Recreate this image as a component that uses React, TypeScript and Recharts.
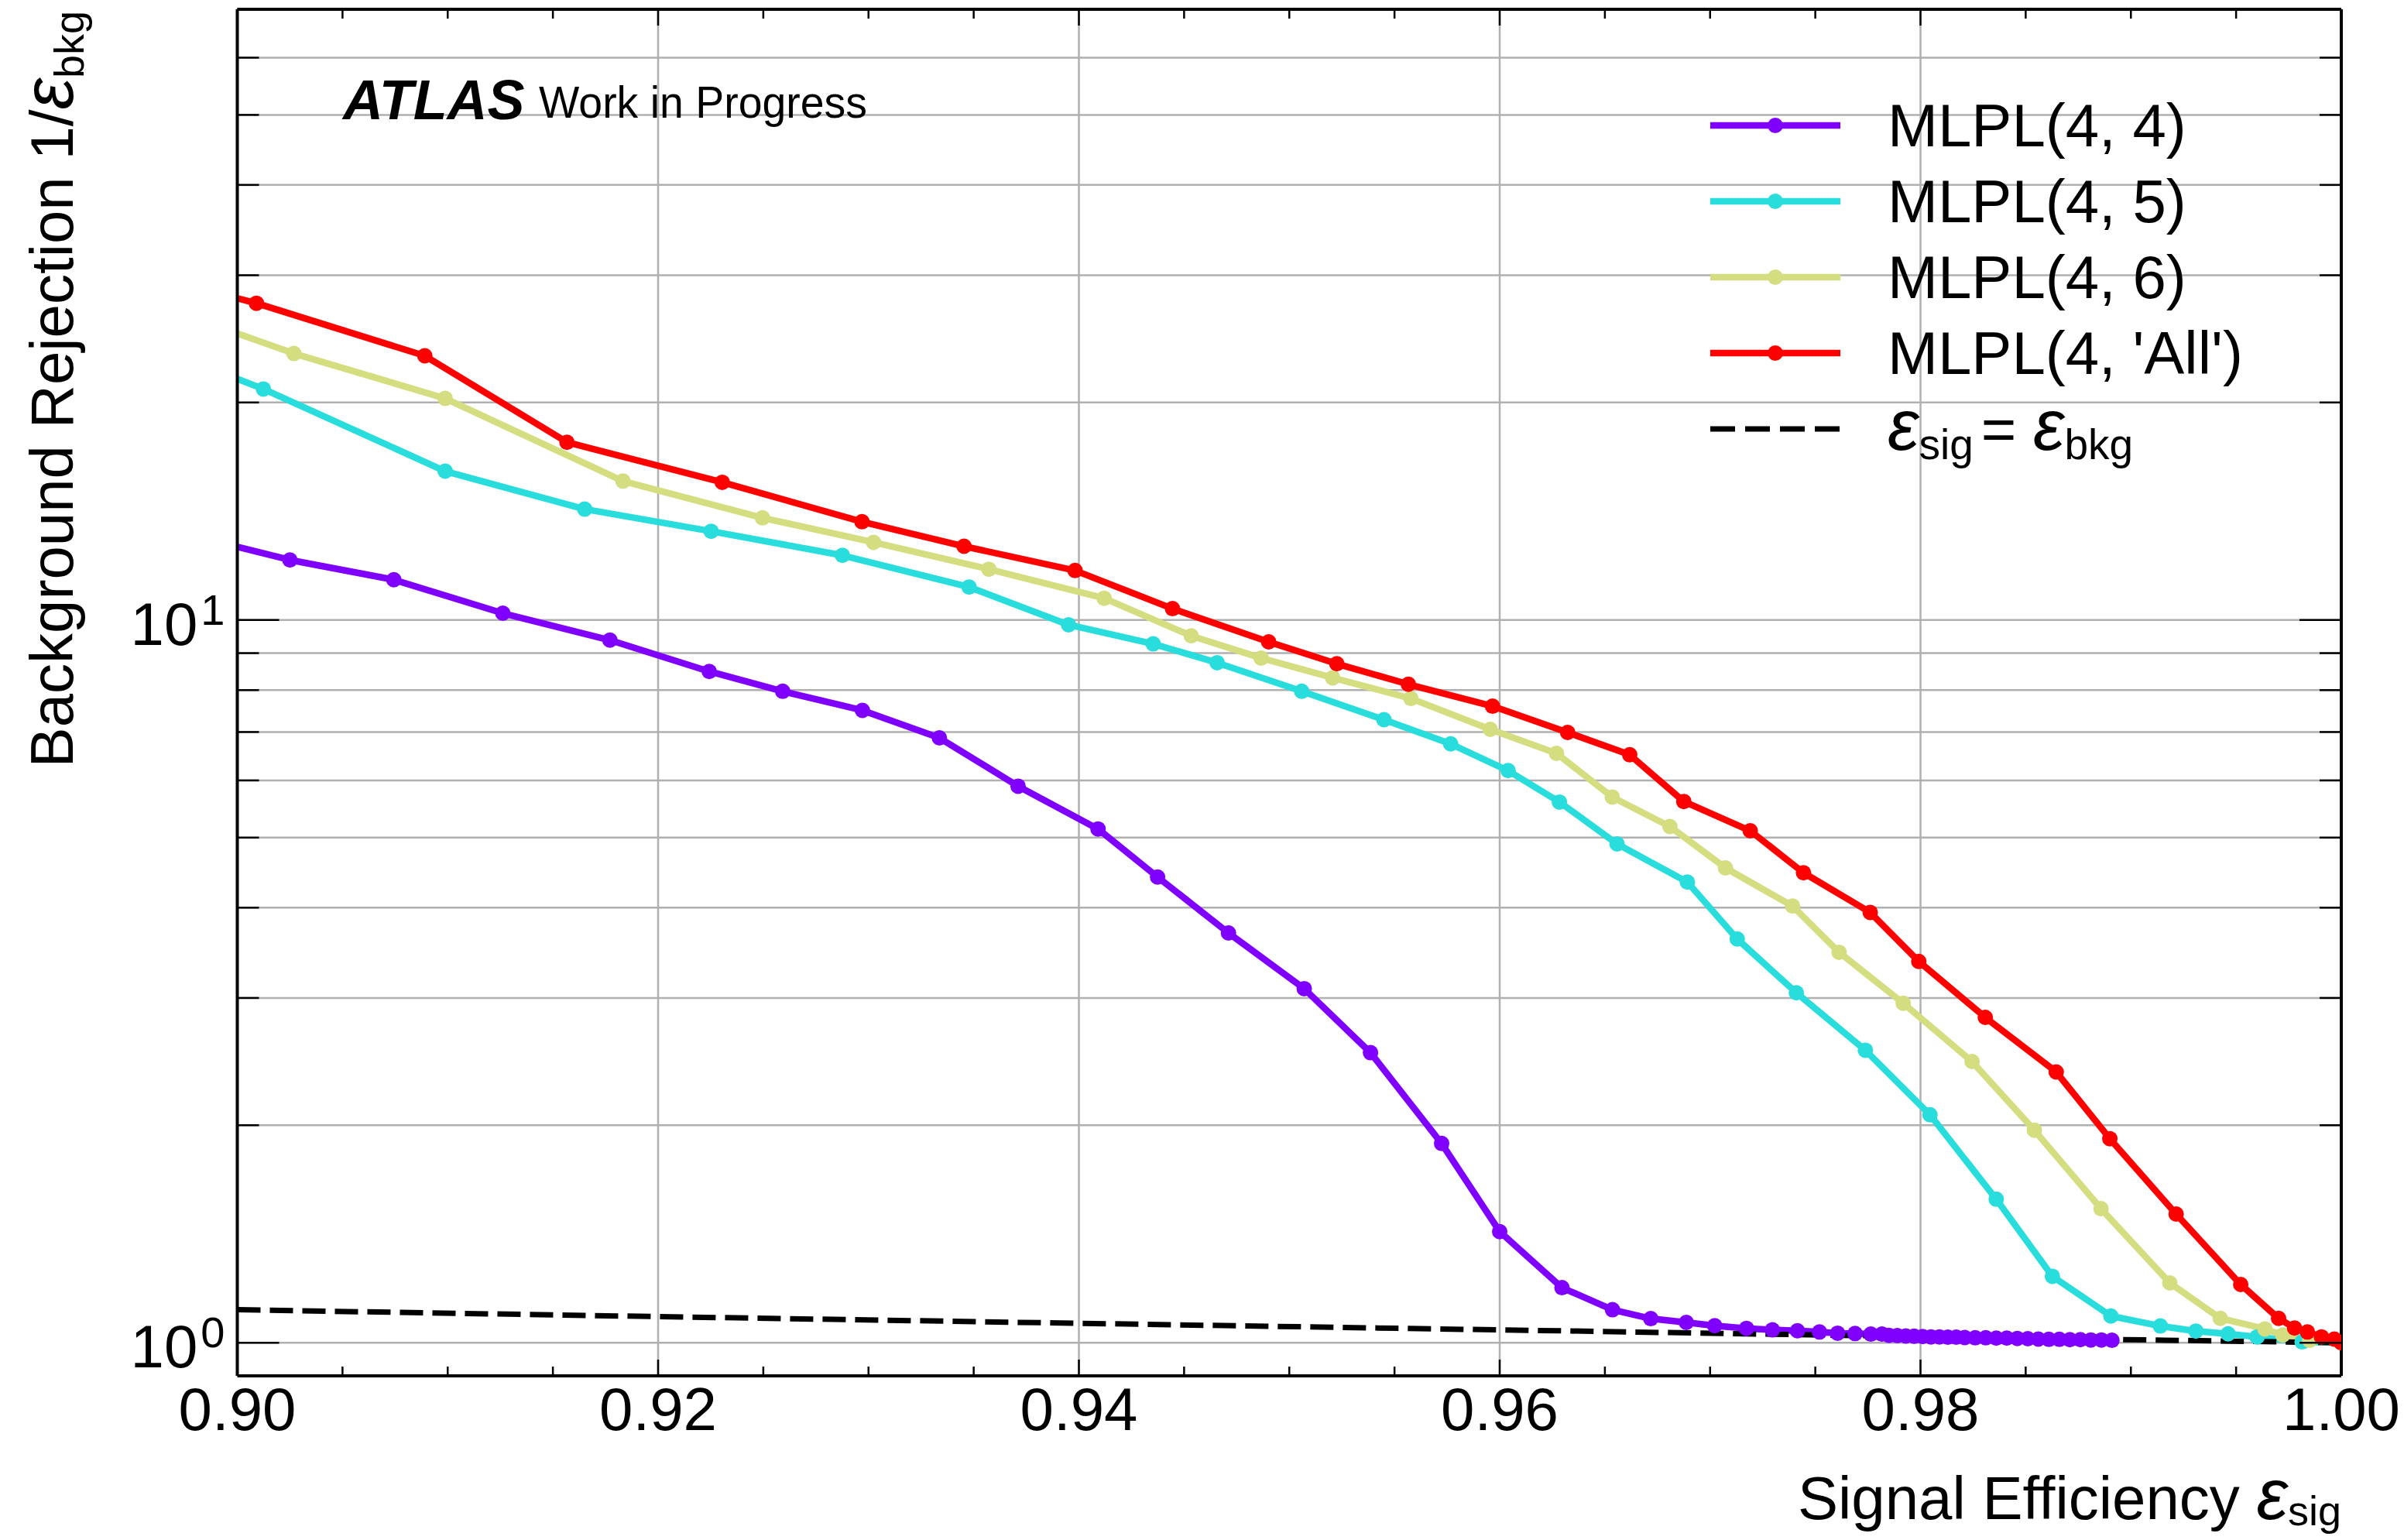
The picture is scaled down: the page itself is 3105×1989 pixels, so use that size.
import React from 'react';
import { LineChart, Line, XAxis, YAxis, CartesianGrid, Legend } from 'recharts';

const CHART_W = 3105;
const CHART_H = 1989;
const FONT = '"Liberation Sans", Arial, Helvetica, sans-serif';

// ---- axes / ticks ----
const xDomain: [number, number] = [0.9, 1.0];
const yDomain: [number, number] = [0.9, 70];
const xMajorTicks = [0.9, 0.92, 0.94, 0.96, 0.98, 1.0];
const xAllTicks = [0.9, 0.905, 0.91, 0.915, 0.92, 0.925, 0.93, 0.935, 0.94, 0.945, 0.95, 0.955, 0.96, 0.965, 0.97, 0.975, 0.98, 0.985, 0.99, 0.995, 1.0];
const yMajorTicks = [1, 10];
const yMajorLabels = ['0', '1'];
const yAllTicks = [1, 2, 3, 4, 5, 6, 7, 8, 9, 10, 20, 30, 40, 50, 60, 70];

// ---- series ----
const seriesNames = ["MLPL(4, 4)", "MLPL(4, 5)", "MLPL(4, 6)", "MLPL(4, 'All')"];
const seriesColors = ['#8000ff', '#2adddd', '#d4dd80', '#ff0000'];

const effMLPL44 = [0.898, 0.9025, 0.90744, 0.91262, 0.91771, 0.92243, 0.92592, 0.92971, 0.93337, 0.93711, 0.94091, 0.94374, 0.94711, 0.95071, 0.95386, 0.95724, 0.96, 0.96296, 0.96536, 0.96718, 0.96887, 0.97022, 0.97173, 0.97296, 0.97415, 0.9752, 0.97606, 0.97689, 0.97764, 0.97817, 0.9785, 0.9789, 0.9793, 0.9797, 0.9801, 0.9805, 0.9809, 0.9813, 0.9817, 0.9821, 0.9826, 0.9831, 0.9836, 0.9841, 0.9846, 0.9851, 0.9856, 0.9861, 0.9866, 0.9871, 0.9876, 0.9881, 0.9886, 0.9891];
const rejMLPL44 = [13.06, 12.11, 11.37, 10.22, 9.38, 8.49, 7.97, 7.5, 6.87, 5.89, 5.14, 4.41, 3.69, 3.09, 2.52, 1.887, 1.425, 1.192, 1.111, 1.08, 1.067, 1.056, 1.047, 1.042, 1.039, 1.035, 1.031, 1.03, 1.028, 1.028, 1.024, 1.023, 1.022, 1.021, 1.02, 1.019, 1.019, 1.018, 1.018, 1.017, 1.016, 1.016, 1.015, 1.015, 1.014, 1.013, 1.012, 1.011, 1.011, 1.01, 1.01, 1.009, 1.009, 1.008];

const effMLPL45 = [0.898, 0.90124, 0.90988, 0.91651, 0.92252, 0.92876, 0.93478, 0.93951, 0.94353, 0.94657, 0.95059, 0.9545, 0.95767, 0.9604, 0.96284, 0.96558, 0.96892, 0.97129, 0.9741, 0.97738, 0.98045, 0.9836, 0.98627, 0.98905, 0.9914, 0.99309, 0.99462, 0.996, 0.99814, 1.0];
const rejMLPL45 = [22.72, 20.88, 16.07, 14.24, 13.27, 12.29, 11.11, 9.85, 9.27, 8.73, 7.97, 7.28, 6.74, 6.19, 5.6, 4.9, 4.34, 3.62, 3.05, 2.54, 2.068, 1.58, 1.236, 1.089, 1.055, 1.038, 1.029, 1.019, 1.003, 1.0];

const effMLPL46 = [0.898, 0.90269, 0.90988, 0.91833, 0.92496, 0.93024, 0.93572, 0.9412, 0.94534, 0.94866, 0.95206, 0.95578, 0.95955, 0.9627, 0.96535, 0.96809, 0.97073, 0.97392, 0.97613, 0.97918, 0.98245, 0.98541, 0.98858, 0.99185, 0.99425, 0.99637, 0.99722, 0.9985, 1.0];
const rejMLPL46 = [26.14, 23.38, 20.26, 15.57, 13.85, 12.81, 11.76, 10.72, 9.51, 8.86, 8.32, 7.79, 7.06, 6.54, 5.69, 5.18, 4.54, 4.02, 3.47, 2.95, 2.45, 1.969, 1.533, 1.21, 1.081, 1.045, 1.025, 1.008, 1.0];

const effMLPL4All = [0.898, 0.90091, 0.90891, 0.91567, 0.92305, 0.92969, 0.93454, 0.93982, 0.94445, 0.94902, 0.95226, 0.95566, 0.95966, 0.96323, 0.96618, 0.96875, 0.97191, 0.97444, 0.97761, 0.97992, 0.98308, 0.98645, 0.989, 0.99215, 0.99522, 0.99702, 0.99778, 0.99839, 0.99906, 0.99967, 1.0];
const rejMLPL4All = [28.85, 27.44, 23.21, 17.62, 15.51, 13.68, 12.65, 11.71, 10.37, 9.33, 8.7, 8.15, 7.6, 6.99, 6.51, 5.61, 5.11, 4.47, 3.94, 3.37, 2.82, 2.37, 1.916, 1.507, 1.204, 1.081, 1.048, 1.035, 1.019, 1.012, 1.0];

const effDiagonal = [0.9, 0.92, 0.94, 0.96, 0.98, 1.0];
const rejDiagonal = [1.111, 1.087, 1.064, 1.042, 1.02, 1.0];

const toPoints = (xs: number[], ys: number[]) => xs.map((x, i) => ({ x, y: ys[i] }));

const seriesData = [
  toPoints(effMLPL44, rejMLPL44),
  toPoints(effMLPL45, rejMLPL45),
  toPoints(effMLPL46, rejMLPL46),
  toPoints(effMLPL4All, rejMLPL4All),
];
const diagonalData = toPoints(effDiagonal, rejDiagonal);

const isXMajor = (v: number) => xMajorTicks.some((m) => Math.abs(m - v) < 1e-9);
const yMajorIndex = (v: number) => yMajorTicks.findIndex((m) => Math.abs(m - v) < 1e-9);

const TICK_W = 2.5;
const X_MAJOR_LEN = 21;
const X_MINOR_LEN = 12;
const Y_MAJOR_LEN = 54;
const Y_MINOR_LEN = 28;
const LINE_W = 8.5;
const DOT_R = 10;
const EPS_SIZE = 92;

const BottomTick = (props: any) => {
  const { x, y, payload } = props;
  const major = isXMajor(payload.value);
  return (
    <g>
      <line x1={x} x2={x} y1={y} y2={y - (major ? X_MAJOR_LEN : X_MINOR_LEN)} stroke="#000" strokeWidth={TICK_W} />
      {major && (
        <text x={x} y={y + 70} textAnchor="middle" fontFamily={FONT} fontSize={78} fill="#000">
          {payload.value.toFixed(2)}
        </text>
      )}
    </g>
  );
};

const TopTick = (props: any) => {
  const { x, y, payload } = props;
  const major = isXMajor(payload.value);
  return <line x1={x} x2={x} y1={y} y2={y + (major ? X_MAJOR_LEN : X_MINOR_LEN)} stroke="#000" strokeWidth={TICK_W} />;
};

const LeftTick = (props: any) => {
  const { x, y, payload } = props;
  const idx = yMajorIndex(payload.value);
  const major = idx >= 0;
  return (
    <g>
      <line x1={x} x2={x + (major ? Y_MAJOR_LEN : Y_MINOR_LEN)} y1={y} y2={y} stroke="#000" strokeWidth={TICK_W} />
      {major && (
        <text x={x - 16} y={y + 32} textAnchor="end" fontFamily={FONT} fontSize={78} fill="#000">
          <tspan>10</tspan>
          <tspan dx={4} dy={-26} fontSize={56}>{yMajorLabels[idx]}</tspan>
        </text>
      )}
    </g>
  );
};

const RightTick = (props: any) => {
  const { x, y, payload } = props;
  const major = yMajorIndex(payload.value) >= 0;
  return <line x1={x} x2={x - (major ? Y_MAJOR_LEN : Y_MINOR_LEN)} y1={y} y2={y} stroke="#000" strokeWidth={TICK_W} />;
};

const legendItems = [
  { label: seriesNames[0], color: seriesColors[0], dashed: false },
  { label: seriesNames[1], color: seriesColors[1], dashed: false },
  { label: seriesNames[2], color: seriesColors[2], dashed: false },
  { label: seriesNames[3], color: seriesColors[3], dashed: false },
  { label: 'diag', color: '#000000', dashed: true },
];

const LegendContent = () => (
  <svg width={760} height={520} style={{ overflow: 'visible', display: 'block' }}>
    {legendItems.map((it, i) => {
      const cy = 62 + i * 98;
      return (
        <g key={i}>
          {it.dashed ? (
            <line x1={19} x2={187} y1={cy} y2={cy} stroke="#000" strokeWidth={7} strokeDasharray="32 13" />
          ) : (
            <g>
              <line x1={19} x2={187} y1={cy} y2={cy} stroke={it.color} strokeWidth={LINE_W} />
              <circle cx={103} cy={cy} r={DOT_R} fill={it.color} />
            </g>
          )}
          {it.dashed ? (
            <text x={248} y={cy + 27} fontFamily={FONT} fontSize={78} fill="#000">
              <tspan fontStyle="italic" fontSize={EPS_SIZE}>ε</tspan>
              <tspan dy={12} fontSize={55}>sig</tspan>
              <tspan dy={-12} dx={10}>= </tspan>
              <tspan fontStyle="italic" fontSize={EPS_SIZE}>ε</tspan>
              <tspan dy={12} fontSize={55}>bkg</tspan>
            </text>
          ) : (
            <text x={248} y={cy + 27} fontFamily={FONT} fontSize={78} fill="#000">
              {it.label}
            </text>
          )}
        </g>
      );
    })}
  </svg>
);

export default function App() {
  return (
    <div style={{ position: 'absolute', left: 0, top: 0, width: CHART_W, height: CHART_H, background: '#fff' }}>
      <LineChart width={CHART_W} height={CHART_H} margin={{ top: 0, right: 0, bottom: 0, left: 0 }}>
        <XAxis
          xAxisId="b"
          type="number"
          dataKey="x"
          domain={xDomain}
          allowDataOverflow
          ticks={xAllTicks}
          interval={0}
          orientation="bottom"
          height={212}
          tickSize={0}
          tickMargin={0}
          tickLine={false}
          tick={BottomTick}
          axisLine={{ stroke: '#000', strokeWidth: 4 }}
        />
        <XAxis
          xAxisId="t"
          type="number"
          dataKey="x"
          domain={xDomain}
          allowDataOverflow
          ticks={xAllTicks}
          interval={0}
          orientation="top"
          height={12}
          tickSize={0}
          tickMargin={0}
          tickLine={false}
          tick={TopTick}
          axisLine={{ stroke: '#000', strokeWidth: 4 }}
        />
        <YAxis
          yAxisId="l"
          type="number"
          scale="log"
          domain={yDomain}
          allowDataOverflow
          ticks={yAllTicks}
          interval={0}
          orientation="left"
          width={306.5}
          tickSize={0}
          tickMargin={0}
          tickLine={false}
          tick={LeftTick}
          axisLine={{ stroke: '#000', strokeWidth: 4 }}
        />
        <YAxis
          yAxisId="r"
          type="number"
          scale="log"
          domain={yDomain}
          allowDataOverflow
          ticks={yAllTicks}
          interval={0}
          orientation="right"
          width={81}
          tickSize={0}
          tickMargin={0}
          tickLine={false}
          tick={RightTick}
          axisLine={{ stroke: '#000', strokeWidth: 4 }}
        />
        <CartesianGrid
          xAxisId="b"
          yAxisId="l"
          stroke="#b0b0b0"
          strokeWidth={2.5}
          horizontalValues={yAllTicks}
          verticalValues={xMajorTicks}
        />
        {seriesData.map((d, i) => (
          <Line
            key={seriesNames[i]}
            xAxisId="b"
            yAxisId="l"
            data={d}
            dataKey="y"
            name={seriesNames[i]}
            type="linear"
            stroke={seriesColors[i]}
            strokeWidth={LINE_W}
            strokeLinejoin="round"
            dot={{ r: DOT_R, fill: seriesColors[i], stroke: seriesColors[i], strokeWidth: 0 }}
            activeDot={false}
            isAnimationActive={false}
          />
        ))}
        <Line
          xAxisId="b"
          yAxisId="l"
          data={diagonalData}
          dataKey="y"
          name="diagonal"
          type="linear"
          stroke="#000"
          strokeWidth={7}
          strokeDasharray="30 12"
          dot={false}
          activeDot={false}
          isAnimationActive={false}
        />
        <Legend
          layout="horizontal"
          verticalAlign="middle"
          align="center"
          wrapperStyle={{ left: 2190, top: 100, width: 760, height: 520 }}
          content={LegendContent}
        />
        <text x={443} y={154} fontFamily={FONT} fontWeight="bold" fontStyle="italic" fontSize={72} fill="#000">
          ATLAS
        </text>
        <text x={696} y={152} fontFamily={FONT} fontSize={58} fill="#000" textLength={424} lengthAdjust="spacingAndGlyphs">
          Work in Progress
        </text>
        <text x={3024} y={1962} textAnchor="end" fontFamily={FONT} fontSize={78} fill="#000">
          <tspan>Signal Efficiency </tspan>
          <tspan fontStyle="italic" fontSize={EPS_SIZE}>ε</tspan>
          <tspan dy={8} fontSize={54}>sig</tspan>
        </text>
        <text transform="translate(94,14) rotate(-90)" textAnchor="end" fontFamily={FONT} fontSize={78} fill="#000">
          <tspan>Background Rejection 1/</tspan>
          <tspan fontStyle="italic" fontSize={EPS_SIZE}>ε</tspan>
          <tspan dy={14} fontSize={54}>bkg</tspan>
        </text>
      </LineChart>
    </div>
  );
}
